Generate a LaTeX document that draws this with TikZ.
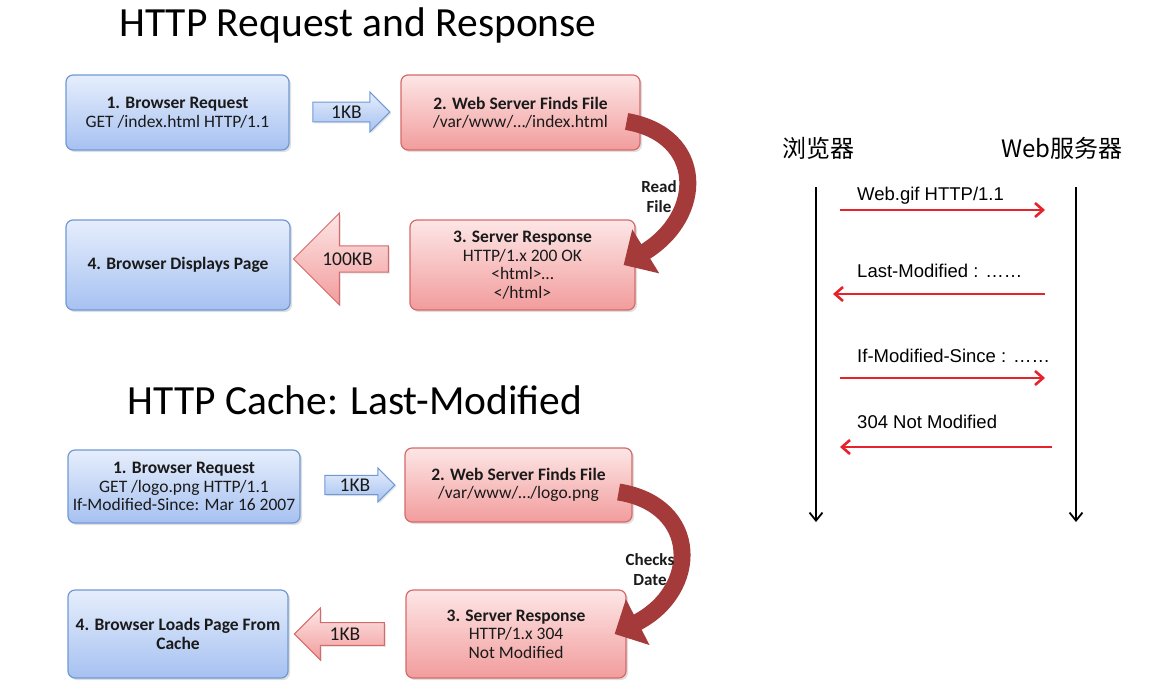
\documentclass[tikz,border=0pt]{standalone}
\usepackage{fontspec}
\setmainfont{Carlito}
\newfontfamily\cjkfont{Noto Sans CJK SC}
\newfontfamily\arialfont{Liberation Sans}
\usetikzlibrary{shapes.arrows,shadows,arrows.meta}
\definecolor{bluetop}{HTML}{E6EEFC}
\definecolor{bluebot}{HTML}{A6C1F1}
\definecolor{blueline}{HTML}{7099D4}
\definecolor{redtop}{HTML}{FDE6E6}
\definecolor{redbot}{HTML}{F29C9C}
\definecolor{redline}{HTML}{D66A6A}
\definecolor{bandred}{HTML}{A53A3A}
\definecolor{msgred}{HTML}{E8222B}
\definecolor{textdark}{HTML}{1A1A1A}
\begin{document}
\begin{tikzpicture}[x=1pt,y=-1pt,
  box/.style={rectangle, rounded corners=7pt, line width=1.2pt, align=center, text=textdark,
    font=\fontsize{17.5}{18.5}\selectfont, inner sep=2pt,
    drop shadow={opacity=0.25, shadow xshift=2pt, shadow yshift=-2pt}},
  bluebox/.style={box, draw=blueline, top color=bluetop, bottom color=bluebot},
  redbox/.style={box, draw=redline, top color=redtop, bottom color=redbot},
  blockarrow/.style={single arrow, line width=1pt, inner sep=1pt, text=textdark,
    font=\fontsize{19.5}{20}\selectfont,
    drop shadow={opacity=0.2, shadow xshift=1.5pt, shadow yshift=-1.5pt}},
  bluearrow/.style={blockarrow, draw=blueline, top color=bluetop, bottom color=bluebot},
  redarrow/.style={blockarrow, draw=redline, top color=redtop, bottom color=redbot, shape border rotate=180},
  band/.style={draw=bandred, line width=17pt, -{Triangle[length=26pt,width=50pt]}},
  bandlabel/.style={font=\bfseries\fontsize{17}{20}\selectfont, align=center, text=textdark},
  title/.style={font=\fontsize{41.5}{44}\selectfont, text=black},
  lifeline/.style={draw=black, line width=1.8pt, -{Straight Barb[length=8pt,width=13pt]}},
  msg/.style={draw=msgred, line width=2.6pt, -{Straight Barb[length=8pt,width=14pt]}},
  msglabel/.style={font=\arialfont\fontsize{18.5}{20}\selectfont, anchor=west, inner sep=0pt},
  actor/.style={font=\cjkfont\fontsize{24}{26}\selectfont}]
\useasboundingbox (0,0) rectangle (1158,691);

% request and response
\node[title] (t1) at (358,25) {HTTP Request and Response};
\node[bluebox, minimum width=223pt, minimum height=75pt] (b1) at (177.5,112.5)
  {\textbf{1. Browser Request}\\GET /index.html HTTP/1.1};
\node[bluearrow, minimum height=77pt, minimum width=40pt, single arrow head extend=8pt] (a1) at (346.5,112) {1KB};
\node[redbox, minimum width=239pt, minimum height=75pt] (b2) at (520.5,112.5)
  {\textbf{2. Web Server Finds File}\\/var/www/\dots/index.html};
\node[redbox, minimum width=225pt, minimum height=90pt] (b3) at (522.5,265)
  {\textbf{3. Server Response}\\HTTP/1.x 200 OK\\<html>\dots\\</html>};
\node[redarrow, minimum height=95pt, minimum width=92pt, single arrow head extend=20pt] (a2) at (347.5,259) {100KB};
\node[bluebox, minimum width=224pt, minimum height=90pt] (b4) at (178,265)
  {\textbf{4. Browser Displays Page}};
\draw[band] ([shift={(-14,9)}]b2.east) .. controls (705,135) and (705,215) .. ([xshift=-12pt]b3.east);
\node[bandlabel] (l1) at (659,197) {Read\\File};

% cache
\node[title] (t2) at (355,400) {HTTP Cache: Last-Modified};
\node[bluebox, minimum width=232pt, minimum height=73pt] (c1) at (184,486.5)
  {\textbf{1. Browser Request}\\GET /logo.png HTTP/1.1\\If-Modified-Since: Mar 16 2007};
\node[bluearrow, minimum height=70pt, minimum width=34pt, single arrow head extend=6pt] (a3) at (355,485) {1KB};
\node[redbox, minimum width=227pt, minimum height=74pt] (c2) at (518.5,485)
  {\textbf{2. Web Server Finds File}\\/var/www/\dots/logo.png};
\node[redbox, minimum width=220pt, minimum height=88pt] (c3) at (516,634)
  {\textbf{3. Server Response}\\HTTP/1.x 304\\Not Modified};
\node[redarrow, minimum height=90pt, minimum width=52pt, single arrow head extend=10pt] (a4) at (345,634) {1KB};
\node[bluebox, minimum width=220pt, minimum height=88pt] (c4) at (178,634)
  {\textbf{4. Browser Loads Page From}\\\textbf{Cache}};
\draw[band] ([shift={(-14,7)}]c2.east) .. controls (700,505) and (700,590) .. ([xshift=-12pt]c3.east);
\node[bandlabel] (l2) at (650,570) {Checks\\Date};

% sequence
\node[actor] (br) at (818,148) {浏览器};
\node[actor] (sv) at (1062,148) {Web服务器};
\coordinate (brtop) at (816,187);
\coordinate (brbot) at (816,522);
\coordinate (svtop) at (1076,187);
\coordinate (svbot) at (1076,522);
\draw[lifeline] (brtop) -- (brbot);
\draw[lifeline] (svtop) -- (svbot);
\coordinate (m1a) at (840,210);
\coordinate (m1b) at (1045,210);
\coordinate (m2a) at (1045,294);
\coordinate (m2b) at (833,294);
\coordinate (m3a) at (840,378);
\coordinate (m3b) at (1045,378);
\coordinate (m4a) at (1052,447);
\coordinate (m4b) at (840,447);
\draw[msg] (m1a) -- (m1b);
\draw[msg] (m2a) -- (m2b);
\draw[msg] (m3a) -- (m3b);
\draw[msg] (m4a) -- (m4b);
\node[msglabel] (q1) at (857,196) {Web.gif HTTP/1.1};
\node[msglabel] (q2) at (857,271) {Last-Modified : ……};
\node[msglabel] (q3) at (857,356) {If-Modified-Since : ……};
\node[msglabel] (q4) at (857,422) {304 Not Modified};
\end{tikzpicture}
\end{document}
